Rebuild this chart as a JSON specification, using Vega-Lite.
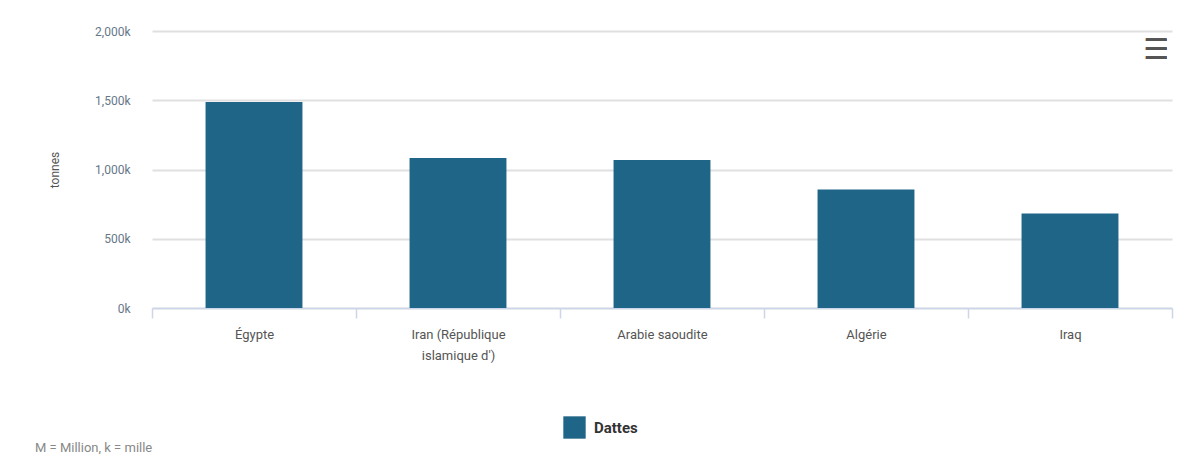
{
  "$schema": "https://vega.github.io/schema/vega-lite/v6.json",
  "autosize": {"type": "none"},
  "width": 1020,
  "height": 277,
  "padding": {"left": 152, "top": 31, "right": 26, "bottom": 158},
  "background": "white",
  "config": {
    "view": {"stroke": null},
    "font": "Roboto"
  },
  "title": {
    "text": "M = Million, k = mille",
    "orient": "bottom",
    "anchor": "start",
    "frame": "group",
    "dx": -117,
    "offset": 3,
    "fontSize": 13,
    "fontWeight": "normal",
    "color": "#888888",
    "font": "Roboto"
  },
  "data": {
    "values": [
      {"pays": "Égypte", "produit": "Dattes", "tonnes": 1488000},
      {"pays": "Iran (République islamique d')", "produit": "Dattes", "tonnes": 1083000},
      {"pays": "Arabie saoudite", "produit": "Dattes", "tonnes": 1068000},
      {"pays": "Algérie", "produit": "Dattes", "tonnes": 855000},
      {"pays": "Iraq", "produit": "Dattes", "tonnes": 682000}
    ]
  },
  "encoding": {
    "x": {
      "field": "pays",
      "type": "nominal",
      "sort": null,
      "scale": {"paddingInner": 0, "paddingOuter": 0},
      "axis": {
        "title": null,
        "labelAngle": 0,
        "labelColor": "#555555",
        "labelFontSize": 13,
        "labelPadding": 10,
        "labelLineHeight": 21,
        "labelExpr": "datum.label == \"Iran (République islamique d')\" ? ['Iran (République', \"islamique d')\"] : datum.label",
        "domainColor": "#ccd6eb",
        "domainWidth": 1.5,
        "tickColor": "#ccd6eb",
        "tickWidth": 1.5,
        "tickSize": 10,
        "tickBand": "extent",
        "grid": false
      }
    },
    "y": {
      "field": "tonnes",
      "type": "quantitative",
      "scale": {"domain": [0, 2000000]},
      "axis": {
        "title": "tonnes",
        "titleColor": "#555555",
        "titleFontSize": 12,
        "titleFontWeight": "normal",
        "titlePadding": 33,
        "values": [0, 500000, 1000000, 1500000, 2000000],
        "labelExpr": "format(datum.value / 1000, ',') + 'k'",
        "labelColor": "#667788",
        "labelFontSize": 12,
        "labelPadding": 22,
        "domain": false,
        "ticks": false,
        "gridColor": "#e0e0e0",
        "gridWidth": 2
      }
    }
  },
  "layer": [
    {
      "mark": {"type": "bar", "color": "#1f6587", "width": {"band": 0.475}},
      "encoding": {
        "fill": {
          "field": "produit",
          "type": "nominal",
          "scale": {"range": ["#1f6587"]},
          "legend": {
            "title": null,
            "orient": "none",
            "legendX": 411,
            "legendY": 385,
            "symbolType": "square",
            "symbolSize": 500,
            "symbolStrokeWidth": 0,
            "labelFontSize": 15,
            "labelFontWeight": "bold",
            "labelColor": "#333333",
            "labelOffset": 8
          }
        }
      }
    },
    {
      "mark": {"type": "text", "text": "☰", "font": "DejaVu Sans", "fontSize": 28, "color": "#555555", "dx": 86, "baseline": "middle"},
      "encoding": {
        "x": {"datum": "Iraq"},
        "y": {"datum": 1855000}
      }
    }
  ]
}
